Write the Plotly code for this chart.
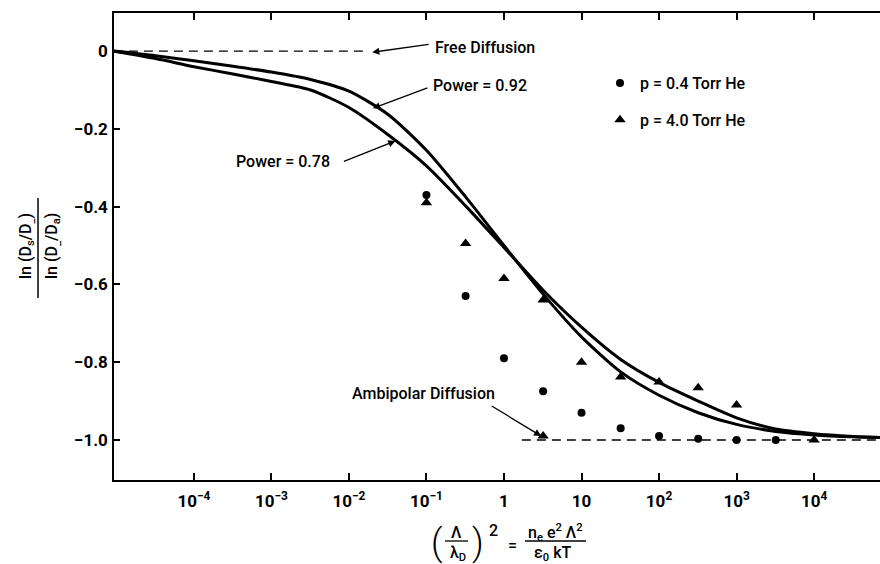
import plotly.graph_objects as go

# ---------------- data ----------------
curve_x = [9.3e-6, 3.2e-5, 1e-4, 3.2e-4, 1e-3, 3.2e-3, 1e-2, 3.2e-2, 0.1, 0.32,
           1, 3.2, 10, 32, 100, 320, 1000, 3200, 1e4, 3.2e4, 7.1e4]
power092_y = [0, -0.012, -0.025, -0.039, -0.054, -0.073, -0.103, -0.163, -0.255, -0.375,
              -0.500, -0.625, -0.735, -0.825, -0.885, -0.930, -0.960, -0.978, -0.987, -0.992, -0.994]
power078_y = [0, -0.019, -0.040, -0.059, -0.078, -0.100, -0.145, -0.215, -0.295, -0.398,
              -0.505, -0.615, -0.710, -0.793, -0.852, -0.900, -0.943, -0.972, -0.984, -0.991, -0.994]

p04_x = [0.1, 0.32, 1, 3.2, 10, 32, 100, 320, 1000, 3200]
p04_y = [-0.37, -0.63, -0.79, -0.875, -0.93, -0.97, -0.99, -0.997, -1.0, -1.0]

p40_x = [0.1, 0.32, 1, 3.2, 3.2, 10, 32, 100, 320, 1000, 1e4]
p40_y = [-0.39, -0.495, -0.585, -0.64, -0.99, -0.80, -0.838, -0.851, -0.866, -0.91, -1.0]

free_x = [9.3e-6, 0.017]
free_y = [0, 0]
ambi_x = [1.7, 7.1e4]
ambi_y = [-1.0, -1.0]

x_tickvals = [1e-4, 1e-3, 1e-2, 1e-1, 1, 10, 100, 1000, 1e4]
x_ticktext = ["10<sup>\u22124</sup>", "10<sup>\u22123</sup>", "10<sup>\u22122</sup>",
              "10<sup>\u22121</sup>", "1", "10", "10<sup>2</sup>", "10<sup>3</sup>", "10<sup>4</sup>"]
y_tickvals = [0, -0.2, -0.4, -0.6, -0.8, -1.0]
y_ticktext = ["0", "\u22120.2", "\u22120.4", "\u22120.6", "\u22120.8", "\u22121.0"]

# ---------------- styling / layout ----------------
FONT = "Roboto, Liberation Sans, sans-serif"
W, H = 880, 564
L, R, T, B = 114, 0, 13, 84
PW, PH = W - L - R, H - T - B


def px(x):
    return (x - L) / PW


def py(y):
    return (H - B - y) / PH


fig = go.Figure()

fig.add_trace(go.Scatter(x=free_x, y=free_y, mode="lines", showlegend=False,
                         line=dict(color="black", width=1.4, dash="9px,6px")))
fig.add_trace(go.Scatter(x=ambi_x, y=ambi_y, mode="lines", showlegend=False,
                         line=dict(color="black", width=1.4, dash="9px,6px")))
fig.add_trace(go.Scatter(x=curve_x, y=power092_y, mode="lines", showlegend=False,
                         line=dict(color="black", width=3, shape="spline", smoothing=0.7)))
fig.add_trace(go.Scatter(x=curve_x, y=power078_y, mode="lines", showlegend=False,
                         line=dict(color="black", width=3, shape="spline", smoothing=0.7)))
fig.add_trace(go.Scatter(x=p04_x, y=p04_y, mode="markers", name="p = 0.4 Torr He",
                         legendgroup="a",
                         marker=dict(symbol="circle", size=8, color="black")))
fig.add_trace(go.Scatter(x=p40_x, y=p40_y, mode="markers", name="p = 4.0 Torr He",
                         legendgroup="b",
                         marker=dict(symbol="triangle-up", size=10, color="black")))

TXTFONT = dict(family=FONT, size=16, color="black", weight=500)
ann = []
txt = dict(xref="paper", yref="paper", showarrow=False, xanchor="center", yanchor="middle",
           font=TXTFONT)
ann.append(dict(text="Free Diffusion", x=px(485), y=py(47), **txt))
ann.append(dict(text="Power = 0.92", x=px(480), y=py(86), **txt))
ann.append(dict(text="Power = 0.78", x=px(283), y=py(162), **txt))
ann.append(dict(text="Ambipolar Diffusion", x=px(423), y=py(393), **txt))

arr = dict(xref="x", yref="y", text="", showarrow=True, arrowhead=2, arrowsize=1.1,
           arrowwidth=1.3, arrowcolor="black", axref="pixel", ayref="pixel")
ann.append(dict(x=-1.70, y=-0.003, ax=58, ay=-8, **arr))
ann.append(dict(x=-1.69, y=-0.147, ax=56, ay=-21, **arr))
ann.append(dict(x=-1.40, y=-0.231, ax=-53, ay=21, **arr))
ann.append(dict(x=0.48, y=-0.99, ax=-51, ay=-31, **arr))

# y tick labels placed against the y axis scale
for v, t in zip(y_tickvals, y_ticktext):
    ann.append(dict(text=t, xref="paper", yref="y", x=px(110), y=v, xanchor="right",
                    yanchor="middle", showarrow=False,
                    font=dict(family=FONT, size=17, color="black", weight="bold")))

# y-axis title (fraction, rotated)
ann.append(dict(text="ln (D<sub>s</sub>/D<sub>_</sub>)", x=px(26), y=py(246), textangle=-90, **txt))
ann.append(dict(text="ln (D<sub>_</sub>/D<sub>a</sub>)", x=px(52), y=py(246), textangle=-90, **txt))

# x-axis title
paren = dict(xref="paper", yref="paper", showarrow=False, xanchor="center", yanchor="middle",
             font=dict(family=FONT, size=36, color="black", weight=300))
ann.append(dict(text="(", x=px(437), y=py(543), **paren))
ann.append(dict(text=")", x=px(478), y=py(543), **paren))
ann.append(dict(text="\u039b", x=px(456), y=py(532), **txt))
ann.append(dict(text="\u03bb<sub>D</sub>", x=px(458), y=py(553), **txt))
ann.append(dict(text="2", x=px(493), y=py(530), **txt))
ann.append(dict(text="=", x=px(512), y=py(545), **txt))
ann.append(dict(text="n<sub>e</sub> e<sup>2</sup> \u039b<sup>2</sup>", x=px(555), y=py(532), **txt))
ann.append(dict(text="\u03b5<sub>0</sub> kT", x=px(552), y=py(553), **txt))

shapes = [
    dict(type="line", xref="paper", yref="paper", x0=px(38), x1=px(38), y0=py(198), y1=py(298),
         line=dict(color="black", width=1.5)),
    dict(type="line", xref="paper", yref="paper", x0=px(445), x1=px(468), y0=py(541), y1=py(541),
         line=dict(color="black", width=1.3)),
    dict(type="line", xref="paper", yref="paper", x0=px(525), x1=px(586), y0=py(541), y1=py(541),
         line=dict(color="black", width=1.3)),
]

fig.update_layout(
    width=W, height=H,
    margin=dict(l=L, r=R, t=T, b=B),
    paper_bgcolor="white", plot_bgcolor="white",
    font=dict(family=FONT, size=16, color="black"),
    annotations=ann, shapes=shapes,
    showlegend=True,
    legend=dict(x=px(600), y=py(66), xanchor="left", yanchor="top",
                bgcolor="rgba(0,0,0,0)", font=TXTFONT,
                tracegroupgap=13, traceorder="grouped"),
    xaxis=dict(type="log", range=[-5.03, 4.85], tickvals=x_tickvals, ticktext=x_ticktext,
               ticks="inside", ticklen=7, tickwidth=1.5, tickcolor="black",
               showline=True, linewidth=2, linecolor="black", mirror="ticks",
               showgrid=False, zeroline=False, ticklabelstandoff=5,
               tickfont=dict(family=FONT, size=17, color="black", weight="bold")),
    yaxis=dict(range=[-1.103, 0.098], tickvals=y_tickvals, showticklabels=False,
               ticks="inside", ticklen=6, tickwidth=1.5, tickcolor="black",
               showline=True, linewidth=2, linecolor="black", mirror=False,
               showgrid=False, zeroline=False),
)

fig.write_html("out.html", config={"displayModeBar": False},
               post_script="document.body.style.margin='0px';")
